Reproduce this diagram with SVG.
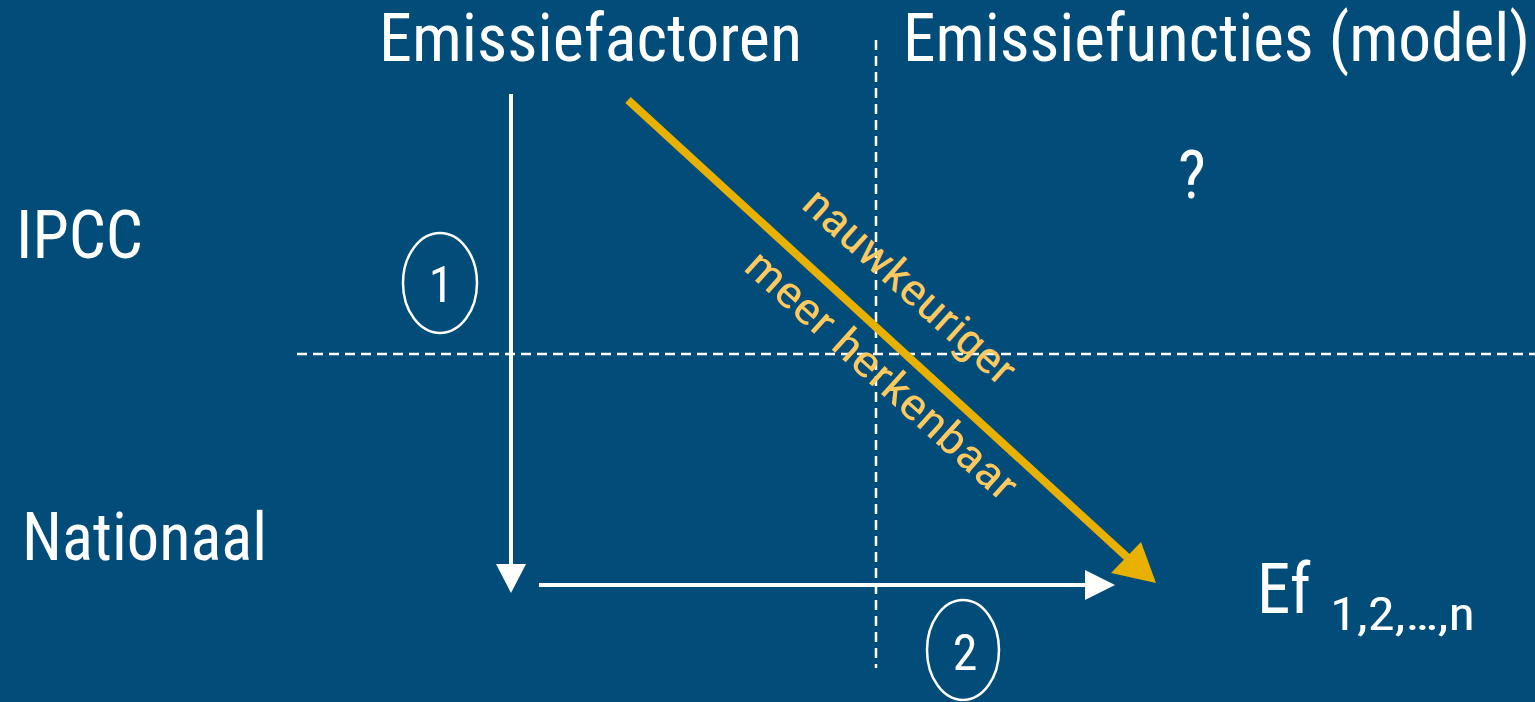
<svg xmlns="http://www.w3.org/2000/svg" width="1535" height="702" viewBox="0 0 1535 702">
<style>
.t{font-family:"Liberation Sans Narrow","Roboto Condensed","Liberation Sans",sans-serif;fill:#ffffff}
.big{font-size:66px}
.lbl{font-family:"Liberation Sans Narrow","Roboto Condensed","Liberation Sans",sans-serif;fill:#ffc95e;font-size:44px}
.dash{stroke:#ffffff;stroke-width:2.5;stroke-dasharray:10 6;fill:none}
.ell{fill:none;stroke:#ffffff;stroke-width:2.5}
.num{font-size:50px}
.wline{stroke:#ffffff;stroke-width:4}
.whead{fill:#ffffff}
</style>
<rect width="1535" height="702" fill="#014c78"/>
<g id="grid">
<line class="dash" x1="876" y1="40" x2="876" y2="668"/>
<line class="dash" x1="297" y1="354" x2="1535" y2="354"/>
</g>
<g id="connectors">
<line class="wline" x1="511" y1="94" x2="511" y2="566"/>
<polygon class="whead" points="496,564 526,564 511,593"/>
<line class="wline" x1="539" y1="585" x2="1087" y2="585"/>
<polygon class="whead" points="1085,570 1085,600 1115,585"/>
<line x1="628" y1="100" x2="1128" y2="558" stroke="#e8b100" stroke-width="8"/>
<polygon points="1111,573 1141,542 1156,583" fill="#e8b100"/>
<text class="lbl" x="900" y="297" text-anchor="middle" transform="rotate(42 900 297)" textLength="270" lengthAdjust="spacingAndGlyphs">nauwkeuriger</text>
<text class="lbl" x="872" y="386" text-anchor="middle" transform="rotate(42 872 386)" textLength="350" lengthAdjust="spacingAndGlyphs">meer herkenbaar</text>
</g>
<g id="emissiefactoren"><text class="t big" x="379" y="61" textLength="423" lengthAdjust="spacingAndGlyphs">Emissiefactoren</text></g>
<g id="emissiefuncties"><text class="t big" x="903" y="61" textLength="627" lengthAdjust="spacingAndGlyphs">Emissiefuncties (model)</text></g>
<g id="ipcc"><text class="t big" x="16" y="258" textLength="127" lengthAdjust="spacingAndGlyphs">IPCC</text></g>
<g id="nationaal"><text class="t big" x="22" y="560" textLength="245" lengthAdjust="spacingAndGlyphs">Nationaal</text></g>
<g id="vraag"><text class="t big" x="1192" y="198" text-anchor="middle">?</text></g>
<g id="ef"><text class="t" x="1257" y="613" font-size="70" textLength="54" lengthAdjust="spacingAndGlyphs">Ef</text><text class="t" x="1330" y="630" font-size="46" textLength="145" lengthAdjust="spacingAndGlyphs">1,2,…,n</text></g>
<g id="stap1"><ellipse class="ell" cx="440" cy="283" rx="37" ry="50"/><text class="t num" x="441" y="302" text-anchor="middle">1</text></g>
<g id="stap2"><ellipse class="ell" cx="963" cy="650" rx="36" ry="50"/><text class="t num" x="965" y="670" text-anchor="middle">2</text></g>
</svg>
